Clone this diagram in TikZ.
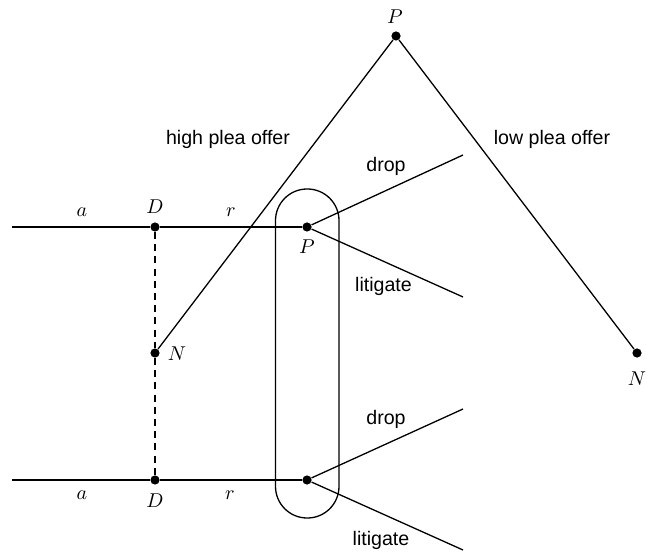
\documentclass[tikz,border=0pt]{standalone}
\usepackage{fontspec}
\newfontfamily\labelfont{Liberation Sans}
\begin{document}
\begin{tikzpicture}[x=0.5pt,y=-0.5pt,
  dot/.style={circle,fill=black,inner sep=0pt,minimum size=4.6pt},
  edge/.style={line width=0.65pt},
  infoset/.style={draw,line width=0.65pt,rounded corners=15.8pt,minimum width=31.75pt,minimum height=164.5pt,inner sep=0pt},
  movelbl/.style={font=\labelfont\fontsize{9.8}{12}\selectfont,inner sep=0pt},
  mathlbl/.style={font=\fontsize{10.2}{12}\selectfont,inner sep=0pt}]
\useasboundingbox (0,0) rectangle (647,555);
% nodes
\node[dot] (Ptop) at (396,36) {};
\node[dot] (Nleft) at (155,353) {};
\node[dot] (Nright) at (637,353) {};
\node[dot] (D1) at (155,227) {};
\node[dot] (D2) at (155,480) {};
\node[dot] (P1) at (307,227) {};
\node[dot] (P2) at (307,480) {};
\node[infoset] (info) at (307.25,353.5) {};
\coordinate (L1) at (12,227);
\coordinate (L2) at (12,480);
\coordinate (drop1) at (463,155);
\coordinate (lit1) at (463,297);
\coordinate (drop2) at (463,409);
\coordinate (lit2) at (463,550);
% edges
\draw[edge] (Ptop) -- (Nleft);
\draw[edge] (Ptop) -- (Nright);
\draw[edge] (L1) -- (D1) -- (P1);
\draw[edge] (L2) -- (D2) -- (P2);
\draw[edge,dash pattern=on 3.5pt off 2.6pt] (D1) -- (Nleft);
\draw[edge,dash pattern=on 3.5pt off 2.6pt] (Nleft) -- (D2);
\draw[edge] (P1) -- (drop1);
\draw[edge] (P1) -- (lit1);
\draw[edge] (P2) -- (drop2);
\draw[edge] (P2) -- (lit2);
% labels
\node[mathlbl] (lPtop) at (395,17) {$P$};
\node[mathlbl] (lNleft) at (177,354) {$N$};
\node[mathlbl] (lNright) at (637,379) {$N$};
\node[mathlbl] (lD1) at (155,207) {$D$};
\node[mathlbl] (la1) at (82,212) {$a$};
\node[mathlbl] (lr1) at (231,212) {$r$};
\node[mathlbl] (lP1) at (307,247) {$P$};
\node[mathlbl] (lD2) at (155,501) {$D$};
\node[mathlbl] (la2) at (82,495) {$a$};
\node[mathlbl] (lr2) at (230,495) {$r$};
\node[movelbl] (high) at (228,139) {high plea offer};
\node[movelbl] (low) at (552,139) {low plea offer};
\node[movelbl] (tdrop1) at (386,166) {drop};
\node[movelbl] (tlit1) at (383.5,286) {litigate};
\node[movelbl] (tdrop2) at (386,419) {drop};
\node[movelbl] (tlit2) at (381,540) {litigate};
\end{tikzpicture}
\end{document}
